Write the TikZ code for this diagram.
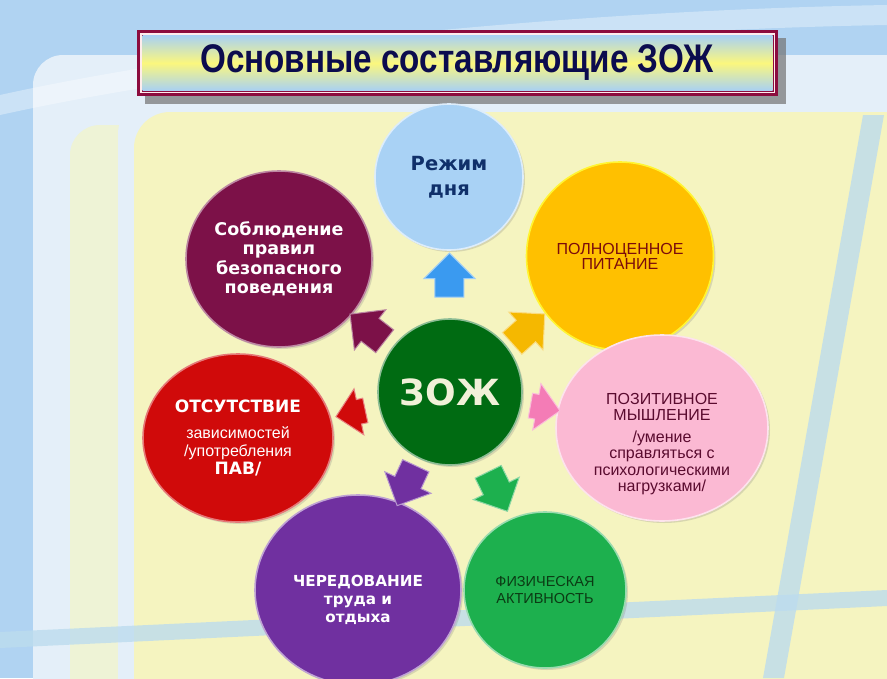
\documentclass[tikz,border=0pt]{standalone}
\usepackage{fontspec}
\setmainfont{Liberation Sans}
\newfontfamily\boldsans{DejaVu Sans}
\newfontfamily\titlefont{Liberation Sans}[FakeStretch=0.83]
\usetikzlibrary{shapes.geometric,shapes.arrows,calc,shadows}

\definecolor{bgblue}{HTML}{B0D3F2}
\definecolor{bgwhite}{HTML}{E4EFF9}
\definecolor{bgpale}{HTML}{EEF3D6}
\definecolor{bgyellow}{HTML}{F5F4C0}
\definecolor{bandblue}{HTML}{BCDCEE}
\definecolor{titleborder}{HTML}{8C0C3E}
\definecolor{titleblue}{HTML}{A9D1F3}
\definecolor{titleyellow}{HTML}{FBF77E}
\definecolor{titletext}{HTML}{0C0C4E}
\definecolor{rezhimfill}{HTML}{A9D2F5}
\definecolor{rezhimtext}{HTML}{10306A}
\definecolor{pitaniefill}{HTML}{FFC000}
\definecolor{pitanietext}{HTML}{7B0C0C}
\definecolor{soblfill}{HTML}{7C1148}
\definecolor{pozitfill}{HTML}{FBB9D3}
\definecolor{pozittext}{HTML}{5A0B2F}
\definecolor{otsutfill}{HTML}{D00A0A}
\definecolor{cheredfill}{HTML}{7030A0}
\definecolor{fizfill}{HTML}{1DB04E}
\definecolor{fiztext}{HTML}{0B3B14}
\definecolor{zozhfill}{HTML}{006B12}
\definecolor{zozhtext}{HTML}{F1F1D8}
\definecolor{arrblue}{HTML}{3A9AF0}
\definecolor{arrgold}{HTML}{F5B800}
\definecolor{arrpink}{HTML}{F47CB6}

\tikzset{
  bubble/.style={ellipse, inner sep=0pt, align=center, line width=1.6pt,
    drop shadow={shadow xshift=2pt, shadow yshift=-2pt, opacity=.25}},
  blockarrow/.style={single arrow, inner xsep=0pt, inner ysep=14pt,
    single arrow head extend=11pt, minimum height=44pt, line width=1pt},
  flatarrow/.style={blockarrow, inner ysep=12pt, minimum height=30pt},
  boldtext/.style={font=\boldsans\bfseries\fontsize{17.5}{19.5}\selectfont},
}

\begin{document}
\begin{tikzpicture}[x=1pt,y=-1pt]
  \useasboundingbox (0,0) rectangle (887,678);
  % background
  \fill[bgblue] (0,0) rectangle (887,678);
  \fill[bgwhite, rounded corners=30pt] (33,55) rectangle (950,760);
  \fill[bgpale, rounded corners=30pt] (70,125) rectangle (950,760);
  \fill[bgwhite, rounded corners=34pt] (118,100) rectangle (950,760);
  \fill[bgyellow, rounded corners=36pt] (134,112) rectangle (950,760);
  \fill[white, opacity=.35] (0,95) .. controls (250,40) and (600,10) .. (887,5)
    -- (887,25) .. controls (600,30) and (250,60) .. (0,115) -- cycle;
  \fill[bandblue, opacity=.8] (0,632) -- (887,590) -- (887,606) -- (0,648) -- cycle;
  \fill[bandblue, opacity=.8] (863,115) -- (884,115) -- (784,678) -- (763,678) -- cycle;

  % title
  \fill[black!55, opacity=.7] (145,38) rectangle (786,104);
  \fill[titleborder] (137,30) rectangle (778,96);
  \fill[pink!30] (140,33) rectangle (775,93);
  \fill[titleborder] (141.5,34.5) rectangle (773.5,91.5);
  \shade[top color=titleblue, bottom color=titleblue, middle color=titleyellow]
    (142.5,35.5) rectangle (772.5,90.5);
  \node[text=titletext, font=\titlefont\bfseries\fontsize{40}{44}\selectfont] (title)
    at (457,63) {Основные составляющие ЗОЖ};

  % circles
  \node[bubble, fill=rezhimfill, draw=rezhimfill!40!white, minimum width=148pt, minimum height=146pt,
    text=rezhimtext, font=\boldsans\bfseries\fontsize{19.5}{25}\selectfont] (rezhim)
    at (449,177) {Режим\\дня};
  \node[bubble, fill=pitaniefill, draw=yellow!80!white, minimum width=187pt, minimum height=188pt,
    text=pitanietext, font=\fontsize{16}{15}\selectfont] (pitanie)
    at (620,256) {ПОЛНОЦЕННОЕ\\ПИТАНИЕ};
  \node[bubble, fill=pozitfill, draw=pozitfill!40!white, minimum width=212pt, minimum height=186pt] (pozit)
    at (662,428) {};
  \node[align=center, text=pozittext, font=\fontsize{16}{16.5}\selectfont] (pozit-text)
    at ($(pozit)+(0,16)$) {ПОЗИТИВНОЕ\\МЫШЛЕНИЕ\\[5pt]/умение\\справляться с\\психологическими\\нагрузками/};
  \node[bubble, fill=fizfill, draw=fizfill!45!white, minimum width=162pt, minimum height=156pt,
    text=fiztext, font=\fontsize{14.5}{17}\selectfont] (fiz)
    at (545,590) {ФИЗИЧЕСКАЯ\\АКТИВНОСТЬ};
  \node[bubble, fill=cheredfill, draw=cheredfill!45!white, minimum width=206pt, minimum height=190pt] (chered)
    at (358,590) {};
  \node[align=center, text=white, font=\boldsans\bfseries\fontsize{15.2}{18}\selectfont] (chered-text)
    at ($(chered)+(0,10)$) {ЧЕРЕДОВАНИЕ\\труда и\\отдыха};
  \node[bubble, fill=otsutfill, draw=otsutfill!55!white, minimum width=190pt, minimum height=168pt,
    text=white, font=\fontsize{16}{18}\selectfont] (otsut)
    at (238,438) {{\boldsans\bfseries\fontsize{17}{19}\selectfont ОТСУТСТВИЕ}\\[8pt]зависимостей\\/употребления\\{\boldsans\bfseries\fontsize{17}{19}\selectfont ПАВ/}};
  \node[bubble, fill=soblfill, draw=soblfill!50!white, minimum width=186pt, minimum height=176pt,
    text=white, boldtext] (sobl)
    at (279,259) {Соблюдение\\правил\\безопасного\\поведения};
  \node[bubble, fill=zozhfill, draw=zozhfill!45!white, minimum width=144pt, minimum height=146pt,
    text=zozhtext, font=\boldsans\bfseries\fontsize{36}{40}\selectfont] (zozh)
    at (450,392) {ЗОЖ};

  % arrows
  \node[blockarrow, fill=arrblue, draw=arrblue!50!white, rotate=90] (a-rezhim) at ($(zozh)!0.51!(rezhim)$) {};
  \node[blockarrow, fill=arrgold, draw=arrgold!50!white, rotate=42] (a-pitanie) at ($(zozh)!0.43!(pitanie)$) {};
  \node[blockarrow, fill=soblfill, draw=soblfill!50!white, rotate=142] (a-sobl) at ($(zozh)!0.45!(sobl)$) {};
  \node[flatarrow, fill=arrpink, draw=arrpink!50!white, rotate=-10] (a-pozit) at ($(zozh)!0.42!(pozit)$) {};
  \node[flatarrow, fill=otsutfill, draw=otsutfill!50!white, rotate=192] (a-otsut) at ($(zozh)!0.44!(otsut)$) {};
  \node[blockarrow, fill=cheredfill, draw=cheredfill!50!white, rotate=245] (a-chered) at ($(zozh)!0.44!(chered)$) {};
  \node[blockarrow, fill=fizfill, draw=fizfill!50!white, rotate=296] (a-fiz) at ($(zozh)!0.47!(fiz)$) {};
\end{tikzpicture}
\end{document}
